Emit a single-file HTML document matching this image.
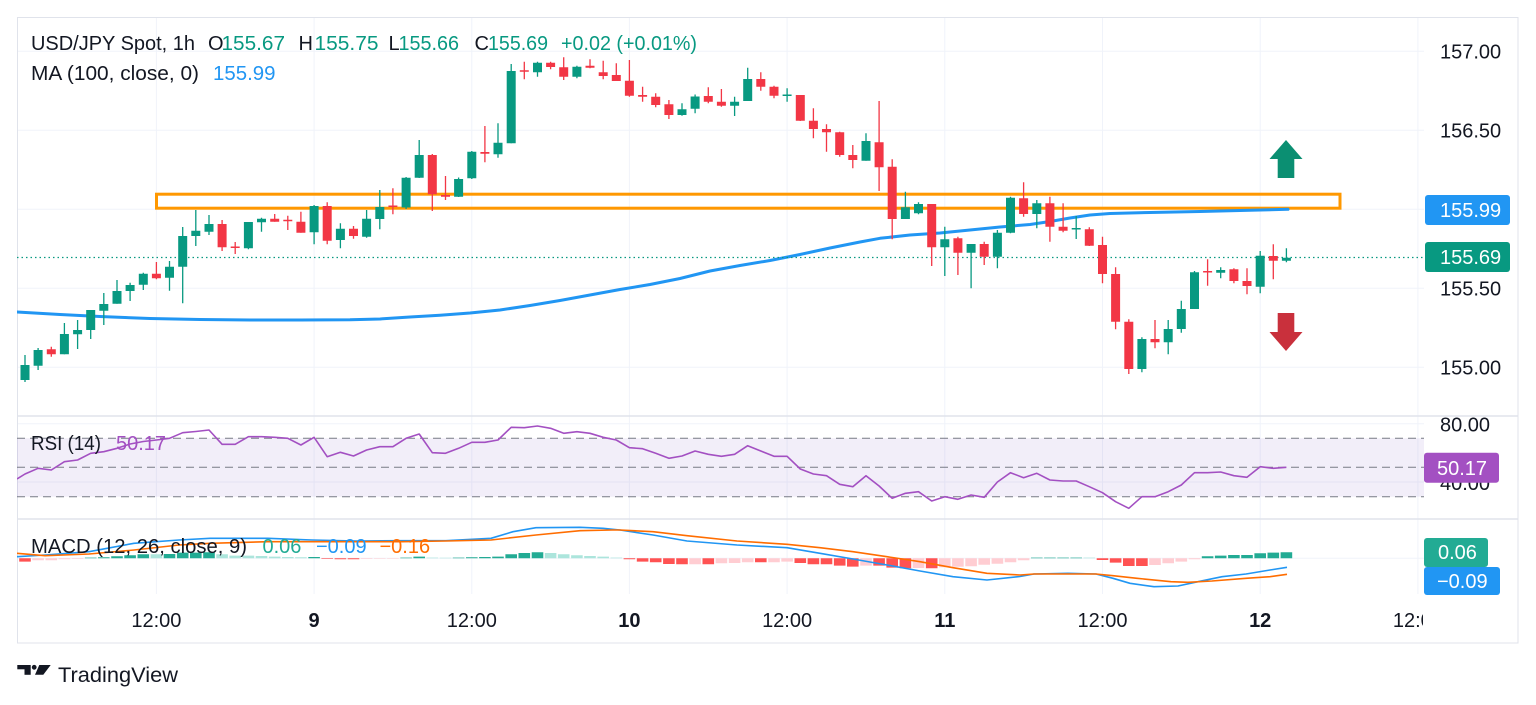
<!DOCTYPE html>
<html>
<head>
<meta charset="utf-8">
<style>
html,body{margin:0;padding:0;background:#ffffff;}
body{width:1536px;height:705px;overflow:hidden;}
svg{display:block;font-family:"Liberation Sans",Arial,sans-serif;}
</style>
</head>
<body>
<svg width="1536" height="705" viewBox="0 0 1536 705" xmlns="http://www.w3.org/2000/svg">
<defs>
<clipPath id="plot"><rect x="17" y="17" width="1407" height="578"/></clipPath>
<clipPath id="taxis"><rect x="17" y="595" width="1406" height="48"/></clipPath>
</defs>
<rect x="0" y="0" width="1536" height="705" fill="#ffffff"/>

<!-- grid -->
<g stroke="#f0f3fa" stroke-width="1">
<path d="M156.4 17V594M314.1 17V594M471.8 17V594M629.4 17V594M787.1 17V594M944.8 17V594M1102.5 17V594M1260.2 17V594M1417.9 17V594"/>
<path d="M17 51.3H1424M17 130.3H1424M17 209.3H1424M17 288.3H1424M17 367.3H1424"/>
<path d="M17 423.8H1424M17 482H1424M17 558.3H1424"/>
</g>

<!-- frame + separators -->
<rect x="17.5" y="17.5" width="1500.5" height="625.5" fill="none" stroke="#e0e3eb" stroke-width="1"/>
<path d="M17 416H1518M17 519H1518" stroke="#e0e3eb" stroke-width="1.5"/>

<!-- RSI band -->
<rect x="17" y="438.3" width="1407" height="58.4" fill="#7e57c2" fill-opacity="0.1"/>
<g stroke="#787b86" stroke-width="1" stroke-dasharray="8 5">
<path d="M17 438.3H1424M17 467.3H1424M17 496.7H1424"/>
</g>

<g clip-path="url(#plot)">
<!-- orange zone -->
<rect x="156.5" y="194.2" width="1183.5" height="14" fill="none" stroke="#ff9800" stroke-width="3"/>

<!-- MA 100 -->
<path d="M17 312 L60 314.5 L100 316.5 L150 318.5 L200 319.5 L250 320 L300 320 L350 319.8 L380 319 L410 317 L440 315.3 L470 313 L500 310 L530 305.5 L560 300.5 L590 295 L620 289.5 L650 284.5 L680 278.5 L710 271 L740 265.5 L770 260.5 L800 254.5 L830 248 L860 242 L880 238.3 L910 235 L940 233 L970 230 L1000 227 L1030 224.5 L1050 221.5 L1070 218 L1090 215 L1110 213.5 L1150 212.5 L1200 211.5 L1250 210.3 L1288 209.3" fill="none" stroke="#2196f3" stroke-width="3" stroke-linejoin="round" stroke-linecap="round"/>

<!-- last price dotted line -->
<path d="M17 257.5H1424" stroke="#089981" stroke-width="1.2" stroke-dasharray="1.5 3"/>

<!-- green wicks -->
<path fill="none" stroke="#089981" stroke-width="1.3" d="M25 355V382M38.1 348V370M64.4 323V354.3M77.6 320V349M90.7 310V339M103.8 293V325M117 280V303.7M130.1 282.7V301M143.3 272.7V290M169.5 261V290.7M182.7 227V303.3M195.8 210V246M209 215V235M248.4 222V249.3M261.5 217.7V231.7M314.1 205V244.3M340.4 223.3V248.3M366.6 210V237.7M379.8 190V229.3M406.1 177V209M419.2 140V178M458.6 177.5V197M471.8 151V179M498 123.3V157.7M511.2 64V143.3M537.5 61.7V76.7M576.9 65.7V78.3M682 103.3V115.7M695.1 94.5V113.3M734.6 96.7V116M747.7 67.7V101M787.1 88.3V101.7M866 133.3V160.7M905.4 191.7V219M918.5 202.3V214.3M944.8 226.7V276M971.1 244V288.3M997.4 230V268.3M1010.5 196.7V233.3M1036.8 200V228.3M1076.2 216V239M1141.9 337.3V372.3M1168.2 320V354.3M1181.3 300.7V332.7M1194.5 271V309M1220.7 267.3V278.3M1260.2 251V293.3M1286.4 248.3V262.3"/>
<!-- green bodies -->
<path fill="#089981" d="M20.5 365h9V380h-9zM33.6 350h9V365.7h-9zM59.9 334h9V354.3h-9zM73.1 330h9V334.3h-9zM86.2 310h9V330h-9zM99.3 304h9V310.7h-9zM112.5 291h9V303.7h-9zM125.6 285h9V291h-9zM138.8 273.7h9V284.7h-9zM165 266.7h9V277.7h-9zM178.2 236h9V266.7h-9zM191.3 230.7h9V236h-9zM204.5 224h9V231.7h-9zM243.9 222h9V248.3h-9zM257 218.7h9V222.3h-9zM309.6 206h9V232.3h-9zM335.9 228.7h9V240h-9zM362.1 218.7h9V236.7h-9zM375.3 207h9V219h-9zM401.6 177.7h9V207.5h-9zM414.7 155h9V177.7h-9zM454.1 179h9V196.7h-9zM467.3 151.7h9V178.3h-9zM493.5 142.7h9V154.3h-9zM506.7 71h9V143.3h-9zM533 62.7h9V72.3h-9zM572.4 66.7h9V76.7h-9zM677.5 109.3h9V115h-9zM690.6 96.5h9V108.7h-9zM730.1 101.7h9V105.7h-9zM743.2 79h9V101h-9zM782.6 94.5h9V96h-9zM861.5 141h9V160.7h-9zM900.9 207.3h9V219h-9zM914 204h9V213.3h-9zM940.3 239.3h9V247.3h-9zM966.6 244h9V252.7h-9zM992.9 232.7h9V256.7h-9zM1006 197.7h9V232.7h-9zM1032.3 203.3h9V214h-9zM1071.7 228h9V229.5h-9zM1137.4 339h9V369h-9zM1163.7 329h9V342.3h-9zM1176.8 309h9V329h-9zM1190 272.3h9V309h-9zM1216.2 270h9V272.7h-9zM1255.7 255.7h9V286.7h-9zM1281.9 257.7h9V260.7h-9z"/>
<!-- red wicks -->
<path fill="none" stroke="#f23645" stroke-width="1.3" d="M51.3 346.7V356.7M156.4 262V279.3M222.1 220V251M235.2 242V254M274.7 214V221.7M287.8 215.7V230M300.9 211.7V232.7M327.2 202.3V244.3M353.5 226V238.7M392.9 188.3V214.3M432.3 154V211M445.5 176V200M484.9 126V162.3M524.3 61.7V79.3M550.6 61.7V69.3M563.7 57.3V80M590 59.3V68.3M603.2 60.7V79.3M616.3 63.3V81M629.4 60V96.7M642.6 86.7V101.7M655.7 93.3V107.3M668.9 100V119M708.3 87.3V103.3M721.4 89V106.7M760.8 72.3V90.7M774 85.7V98.3M800.3 95V121M813.4 108.3V138.3M826.5 124.3V151.7M839.7 131.7V156.7M852.8 145V168.3M879.1 101V191M892.2 159.3V239.3M931.7 204V266M957.9 236.7V275M984.2 241.7V265M1023.6 182.3V216.7M1049.9 196.7V241.7M1063.1 203.3V232.3M1089.3 227.3V246M1102.5 236.7V283.3M1115.6 267.3V329.3M1128.8 319.3V374M1155 320V348.3M1207.6 259.3V285.7M1233.9 268.3V283.3M1247 268.3V294.3M1273.3 244.3V279.3"/>
<!-- red bodies -->
<path fill="#f23645" d="M46.8 349.3h9V354.3h-9zM151.9 273.7h9V278.3h-9zM217.6 224h9V247.3h-9zM230.7 246.5h9V248h-9zM270.2 218.7h9V221.7h-9zM283.3 219.8h9V221.2h-9zM296.4 221.7h9V232.7h-9zM322.7 206h9V240.7h-9zM349 228.7h9V236h-9zM388.4 205.5h9V207h-9zM427.8 155h9V194.3h-9zM441 195h9V196.7h-9zM480.4 152h9V153.7h-9zM519.8 70.3h9V71.8h-9zM546.1 62.7h9V67h-9zM559.2 67.3h9V76.7h-9zM585.5 65.7h9V67.7h-9zM598.7 72.3h9V76h-9zM611.8 75h9V81h-9zM624.9 80.7h9V95.7h-9zM638.1 95h9V96.7h-9zM651.2 96.7h9V105h-9zM664.4 104.3h9V115h-9zM703.8 96h9V101.7h-9zM716.9 101.7h9V105.7h-9zM756.3 79h9V86.7h-9zM769.5 86.7h9V95.7h-9zM795.8 95h9V120.7h-9zM808.9 120.7h9V129h-9zM822 129h9V132.3h-9zM835.2 132.3h9V155h-9zM848.3 155h9V160h-9zM874.6 142.3h9V167.3h-9zM887.7 166.7h9V219h-9zM927.2 204h9V247.3h-9zM953.4 238.3h9V252.7h-9zM979.7 244h9V256.7h-9zM1019.1 198.3h9V214h-9zM1045.4 203.3h9V226.7h-9zM1058.6 226.7h9V230.7h-9zM1084.8 229.3h9V245.7h-9zM1098 245h9V274h-9zM1111.1 274h9V321.7h-9zM1124.3 321.7h9V369h-9zM1150.5 339h9V342.3h-9zM1203.1 271h9V272.5h-9zM1229.4 269.3h9V281h-9zM1242.5 281h9V286h-9zM1268.8 256h9V260.7h-9z"/>

<!-- arrows -->
<path d="M1286 140 L1302.5 159 L1294.3 159 L1294.3 178 L1277.7 178 L1277.7 159 L1269.5 159 Z" fill="#0b8f72"/>
<path d="M1277.7 313 L1294.3 313 L1294.3 332 L1302.5 332 L1286 351 L1269.5 332 L1277.7 332 Z" fill="#c9303c"/>

<!-- RSI line -->
<polyline fill="none" stroke="#a350c2" stroke-width="1.6" stroke-linejoin="round" points="17,479 25,474 38.1,468.3 51.3,470 64.4,461.7 77.6,460 90.7,453.3 103.8,451.7 117,448.3 130.1,444 143.3,441.5 156.4,440 169.5,438.3 182.7,432.7 195.8,431.5 209,430 222.1,444.3 235.2,444.3 248.4,436.7 261.5,436.7 274.7,437.3 287.8,438.3 300.9,445 314.1,437.3 327.2,456.7 340.4,452.3 353.5,456 366.6,450 379.8,446.7 392.9,446.7 406.1,438.3 419.2,434 432.3,452.7 445.5,453.3 458.6,448.3 471.8,442.3 484.9,442.3 498,440 511.2,427.3 524.3,427.7 537.5,426 550.6,428.3 563.7,433.3 576.9,431.7 590,433.3 603.2,437.3 616.3,440 629.4,447.7 642.6,448.7 655.7,453.3 668.9,458.3 682,456 695.1,451 708.3,454.3 721.4,456.3 734.6,454.3 747.7,445.7 760.8,451 774,456.3 787.1,456.3 800.3,469 813.4,474 826.5,475.7 839.7,484.3 852.8,486.7 866,475.7 879.1,486 892.2,498.3 905.4,493.3 918.5,491.7 931.7,501 944.8,496.7 957.9,499.3 971.1,495 984.2,497.3 997.4,482 1010.5,472.7 1023.6,477.7 1036.8,473.3 1049.9,480 1063.1,481 1076.2,481 1089.3,486.7 1102.5,492.7 1115.6,501.7 1128.8,508.3 1141.9,496.7 1155,496.7 1168.2,491.7 1181.3,485 1194.5,472.7 1207.6,472.7 1220.7,472 1233.9,475.7 1247,477.3 1260.2,466.7 1273.3,468.3 1286.4,467.3"/>

<!-- MACD histogram -->
<path fill="#22ab94" d="M84.9 557.6h11.6v0.7h-11.6zM98 557.3h11.6v1h-11.6zM111.2 556.3h11.6v2h-11.6zM124.3 555.3h11.6v3h-11.6zM137.5 554.3h11.6v4h-11.6zM163.7 554h11.6v4.3h-11.6zM176.9 552.6h11.6v5.7h-11.6zM190 552.6h11.6v5.7h-11.6zM203.2 552.3h11.6v6h-11.6zM308.3 557h11.6v1.3h-11.6zM400.3 557.6h11.6v0.7h-11.6zM413.4 556.6h11.6v1.7h-11.6zM452.8 557.6h11.6v0.7h-11.6zM466 557.3h11.6v1h-11.6zM479.1 557h11.6v1.3h-11.6zM492.2 556.6h11.6v1.7h-11.6zM505.4 554.3h11.6v4h-11.6zM518.5 553h11.6v5.3h-11.6zM531.7 552.3h11.6v6h-11.6zM1031 557.6h11.6v0.7h-11.6zM1044.1 557.6h11.6v0.7h-11.6zM1057.3 557.6h11.6v0.7h-11.6zM1070.4 557.6h11.6v0.7h-11.6zM1201.8 556.3h11.6v2h-11.6zM1214.9 555.6h11.6v2.7h-11.6zM1228.1 555h11.6v3.3h-11.6zM1241.2 555h11.6v3.3h-11.6zM1254.4 553.3h11.6v5h-11.6zM1267.5 552.6h11.6v5.7h-11.6zM1280.6 552.3h11.6v6h-11.6z"/>
<path fill="#ace5dc" d="M150.6 554.3h11.6v4h-11.6zM216.3 554.3h11.6v4h-11.6zM229.4 555.6h11.6v2.7h-11.6zM242.6 555.6h11.6v2.7h-11.6zM255.7 556h11.6v2.3h-11.6zM268.9 556.6h11.6v1.7h-11.6zM282 557h11.6v1.3h-11.6zM295.1 557.3h11.6v1h-11.6zM426.5 557.6h11.6v0.7h-11.6zM439.7 557.8h11.6v0.5h-11.6zM544.8 553h11.6v5.3h-11.6zM557.9 554.3h11.6v4h-11.6zM571.1 555.3h11.6v3h-11.6zM584.2 556h11.6v2.3h-11.6zM597.4 556.6h11.6v1.7h-11.6zM610.5 557.6h11.6v0.7h-11.6zM1083.5 557.6h11.6v0.7h-11.6z"/>
<path fill="#ff5252" d="M19.2 558.3h11.6v3.3h-11.6zM321.4 558.3h11.6v0.6h-11.6zM334.6 558.3h11.6v1h-11.6zM347.7 558.3h11.6v1h-11.6zM623.6 558.3h11.6v1h-11.6zM636.8 558.3h11.6v3.3h-11.6zM649.9 558.3h11.6v4h-11.6zM663.1 558.3h11.6v5.7h-11.6zM676.2 558.3h11.6v6h-11.6zM702.5 558.3h11.6v6h-11.6zM755 558.3h11.6v4h-11.6zM794.5 558.3h11.6v4.7h-11.6zM807.6 558.3h11.6v6h-11.6zM820.7 558.3h11.6v6h-11.6zM833.9 558.3h11.6v7.3h-11.6zM847 558.3h11.6v8.3h-11.6zM873.3 558.3h11.6v7.3h-11.6zM886.4 558.3h11.6v9.3h-11.6zM899.6 558.3h11.6v10h-11.6zM925.9 558.3h11.6v10h-11.6zM1096.7 558.3h11.6v1.7h-11.6zM1109.8 558.3h11.6v4.3h-11.6zM1123 558.3h11.6v7.7h-11.6zM1136.1 558.3h11.6v7.7h-11.6z"/>
<path fill="#ffcdd2" d="M32.3 558.3h11.6v2h-11.6zM45.5 558.3h11.6v2h-11.6zM58.6 558.3h11.6v1h-11.6zM71.8 558.3h11.6v0.6h-11.6zM360.8 558.3h11.6v0.6h-11.6zM374 558.3h11.6v0.5h-11.6zM387.1 558.3h11.6v0.5h-11.6zM689.3 558.3h11.6v6h-11.6zM715.6 558.3h11.6v5h-11.6zM728.8 558.3h11.6v4.7h-11.6zM741.9 558.3h11.6v4h-11.6zM768.2 558.3h11.6v4h-11.6zM781.3 558.3h11.6v3.3h-11.6zM860.2 558.3h11.6v7.3h-11.6zM912.7 558.3h11.6v9.7h-11.6zM939 558.3h11.6v9h-11.6zM952.1 558.3h11.6v8.5h-11.6zM965.3 558.3h11.6v8h-11.6zM978.4 558.3h11.6v6.5h-11.6zM991.6 558.3h11.6v5.5h-11.6zM1004.7 558.3h11.6v4h-11.6zM1017.8 558.3h11.6v2h-11.6zM1149.2 558.3h11.6v6.7h-11.6zM1162.4 558.3h11.6v5h-11.6zM1175.5 558.3h11.6v3.3h-11.6zM1188.7 558.3h11.6v1h-11.6z"/>

<!-- MACD lines -->
<polyline fill="none" stroke="#2196f3" stroke-width="1.6" stroke-linejoin="round" points="17,556.7 45,555 89,551.7 134,543.3 179,540 210,538.3 268,538.3 312,540 357,541 402,540.7 446,540.7 491,538.3 513,531.7 536,527.7 580,527.3 603,528.3 620,530 653,535 687,541 737,545 787,547.7 820,553.3 853,559 887,565 920,571 953,576.7 987,580 1020,576.5 1034,574 1068,573.3 1096,574 1113,578.3 1130,583.3 1154,586.7 1178,586 1198,581.7 1222,576.7 1246,574 1270,570 1287,567.3"/>
<polyline fill="none" stroke="#ff6d00" stroke-width="1.6" stroke-linejoin="round" points="17,553.3 45,555.7 89,554 134,550 179,545 210,543.3 268,541.7 312,541.7 357,541.7 402,541.7 446,541 491,540 536,535 580,530.7 612,530 620,530 653,531.7 687,535.7 737,541 787,544.3 820,547.7 853,551.7 887,556.7 920,561.7 953,567.7 987,573.3 1020,575 1034,574 1068,574 1096,574 1113,575.7 1137,578.3 1171,581.7 1188,582.3 1212,581 1246,578.3 1270,576.7 1287,574.3"/>
</g>

<!-- legends -->
<g font-size="20" fill="#131722">
<text x="31" y="50" textLength="164" lengthAdjust="spacingAndGlyphs">USD/JPY Spot, 1h</text>
<text x="208" y="50">O</text>
<text x="221.5" y="50" fill="#089981" textLength="63.5" lengthAdjust="spacingAndGlyphs">155.67</text>
<text x="298.5" y="50">H</text>
<text x="314.5" y="50" fill="#089981" textLength="64" lengthAdjust="spacingAndGlyphs">155.75</text>
<text x="388.5" y="50">L</text>
<text x="398.5" y="50" fill="#089981" textLength="60.5" lengthAdjust="spacingAndGlyphs">155.66</text>
<text x="474.5" y="50">C</text>
<text x="488" y="50" fill="#089981" textLength="60" lengthAdjust="spacingAndGlyphs">155.69</text>
<text x="561" y="50" fill="#089981" textLength="136" lengthAdjust="spacingAndGlyphs">+0.02 (+0.01%)</text>
<text x="31" y="80" textLength="168" lengthAdjust="spacingAndGlyphs">MA (100, close, 0)</text>
<text x="213" y="80" fill="#2196f3" textLength="62.5" lengthAdjust="spacingAndGlyphs">155.99</text>
<text x="31" y="450" textLength="70" lengthAdjust="spacingAndGlyphs">RSI (14)</text>
<text x="116" y="450" fill="#a350c2" textLength="50" lengthAdjust="spacingAndGlyphs">50.17</text>
<text x="31" y="553" textLength="216" lengthAdjust="spacingAndGlyphs">MACD (12, 26, close, 9)</text>
<text x="262.5" y="553" fill="#22ab94">0.06</text>
<text x="316" y="553" fill="#2196f3">−0.09</text>
<text x="379.5" y="553" fill="#ff6d00">−0.16</text>
</g>

<!-- price axis -->
<g font-size="20" fill="#131722">
<text x="1440" y="58.5">157.00</text>
<text x="1440" y="137.5">156.50</text>
<text x="1440" y="295.5">155.50</text>
<text x="1440" y="374.5">155.00</text>
<text x="1440" y="431.5">80.00</text>
<text x="1440" y="490">40.00</text>
</g>
<rect x="1425" y="195" width="85" height="30" rx="3" fill="#2196f3"/>
<rect x="1425" y="242" width="85" height="30" rx="3" fill="#089981"/>
<rect x="1424" y="452.7" width="75" height="30" rx="3" fill="#a350c2"/>
<rect x="1424" y="538" width="64" height="29" rx="3" fill="#22ab94"/>
<rect x="1424" y="567" width="76" height="28" rx="3" fill="#2196f3"/>
<g font-size="20" fill="#ffffff">
<text x="1440" y="217">155.99</text>
<text x="1440" y="264">155.69</text>
<text x="1437" y="475">50.17</text>
<text x="1438" y="559">0.06</text>
<text x="1437" y="588">−0.09</text>
</g>

<!-- time axis -->
<g font-size="20" fill="#131722" text-anchor="middle" clip-path="url(#taxis)">
<text x="156.4" y="627">12:00</text>
<text x="314.1" y="627" font-weight="bold">9</text>
<text x="471.8" y="627">12:00</text>
<text x="629.4" y="627" font-weight="bold">10</text>
<text x="787.1" y="627">12:00</text>
<text x="944.8" y="627" font-weight="bold">11</text>
<text x="1102.5" y="627">12:00</text>
<text x="1260.2" y="627" font-weight="bold">12</text>
<text x="1417.9" y="627">12:00</text>
</g>

<!-- TradingView logo -->
<g fill="#131722">
<path d="M17.3 665h12.7v4.3h-12.7z"/>
<path d="M24.5 665h6.2v9.8h-6.2z"/>
<circle cx="34.2" cy="667.3" r="2.4"/>
<path d="M39.3 665h11.4l-7.4 9.8h-8.3z"/>
</g>
<text x="58" y="682" font-size="21.5" fill="#131722" textLength="120" lengthAdjust="spacingAndGlyphs">TradingView</text>
</svg>
</body>
</html>
